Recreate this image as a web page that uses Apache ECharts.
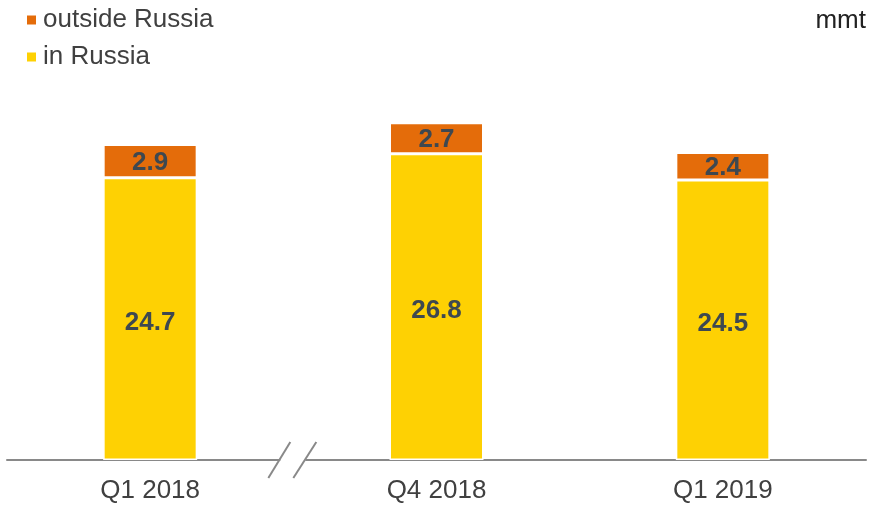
<!DOCTYPE html>
<html lang="en">
<head>
    <meta charset="UTF-8">
    <title>Volumes</title>
    <script type="text/javascript" src="https://cdn.jsdelivr.net/npm/echarts@6/dist/echarts.min.js"></script>
    <style>
        body { margin: 0; background: #fff; }
        #container { width: 869px; height: 506px; }
    </style>
</head>
<body>
<div id="container"></div>
<script>
    var categories = ["Q1 2018", "Q4 2018", "Q1 2019"];
    var inRussia = [24.7, 26.8, 24.5];
    var outsideRussia = [2.9, 2.7, 2.4];

    var labelColor = "#3e4850";
    var textColor = "#404040";

    var dom = document.getElementById("container");
    var myChart = echarts.init(dom);
    var option = {
        animation: false,
        textStyle: { fontFamily: "Liberation Sans, Arial, sans-serif" },
        legend: {
            orient: "vertical",
            left: 20,
            top: 2,
            itemWidth: 11,
            itemHeight: 11,
            itemGap: 11,
            icon: "rect",
            data: ["outside Russia", "in Russia"],
            textStyle: { fontSize: 26, color: textColor, padding: [0, 0, 0, 1] }
        },
        grid: { left: 7, right: 3, top: 60, bottom: 46 },
        xAxis: {
            type: "category",
            data: categories,
            axisLine: { lineStyle: { color: "#898989", width: 2 } },
            axisTick: { show: false },
            axisLabel: { fontSize: 26, color: textColor, margin: 18 }
        },
        yAxis: {
            type: "value",
            min: 0,
            max: 35,
            show: false,
            splitLine: { show: false }
        },
        series: [
            {
                name: "in Russia",
                type: "bar",
                stack: "total",
                data: inRussia,
                barWidth: 94,
                itemStyle: { color: "#fed103", borderColor: "#fff", borderWidth: 1.5 },
                label: {
                    show: true,
                    position: "inside",
                    offset: [0, 4],
                    fontSize: 26,
                    fontWeight: "bold",
                    color: labelColor
                }
            },
            {
                name: "outside Russia",
                type: "bar",
                stack: "total",
                data: outsideRussia,
                barWidth: 94,
                itemStyle: { color: "#e46c0a", borderColor: "#fff", borderWidth: 1.5 },
                label: {
                    show: true,
                    position: "inside",
                    offset: [0, 2],
                    fontSize: 26,
                    fontWeight: "bold",
                    color: labelColor
                }
            }
        ]
    };
    myChart.setOption(option);

    // axis break marks between the first two categories
    var x0 = myChart.convertToPixel({ xAxisIndex: 0 }, categories[0]);
    var x1 = myChart.convertToPixel({ xAxisIndex: 0 }, categories[1]);
    var yAxisPx = myChart.convertToPixel({ yAxisIndex: 0 }, 0);
    var mx = (x0 + x1) / 2;
    var breakStyle = { stroke: "#898989", lineWidth: 2 };
    myChart.setOption({
        graphic: [
            {
                type: "text",
                right: 3,
                top: 8,
                style: { text: "mmt", fill: "#222", font: "26px Liberation Sans, Arial, sans-serif" }
            },
            {
                type: "rect",
                shape: { x: mx - 13, y: yAxisPx - 3, width: 25, height: 6 },
                style: { fill: "#fff" },
                z: 100
            },
            {
                type: "line",
                shape: { x1: mx - 25, y1: yAxisPx + 18, x2: mx - 3, y2: yAxisPx - 18 },
                style: breakStyle,
                z: 101
            },
            {
                type: "line",
                shape: { x1: mx, y1: yAxisPx + 18, x2: mx + 23, y2: yAxisPx - 18 },
                style: breakStyle,
                z: 101
            }
        ]
    }, { replaceMerge: ["graphic"] });
</script>
</body>
</html>
